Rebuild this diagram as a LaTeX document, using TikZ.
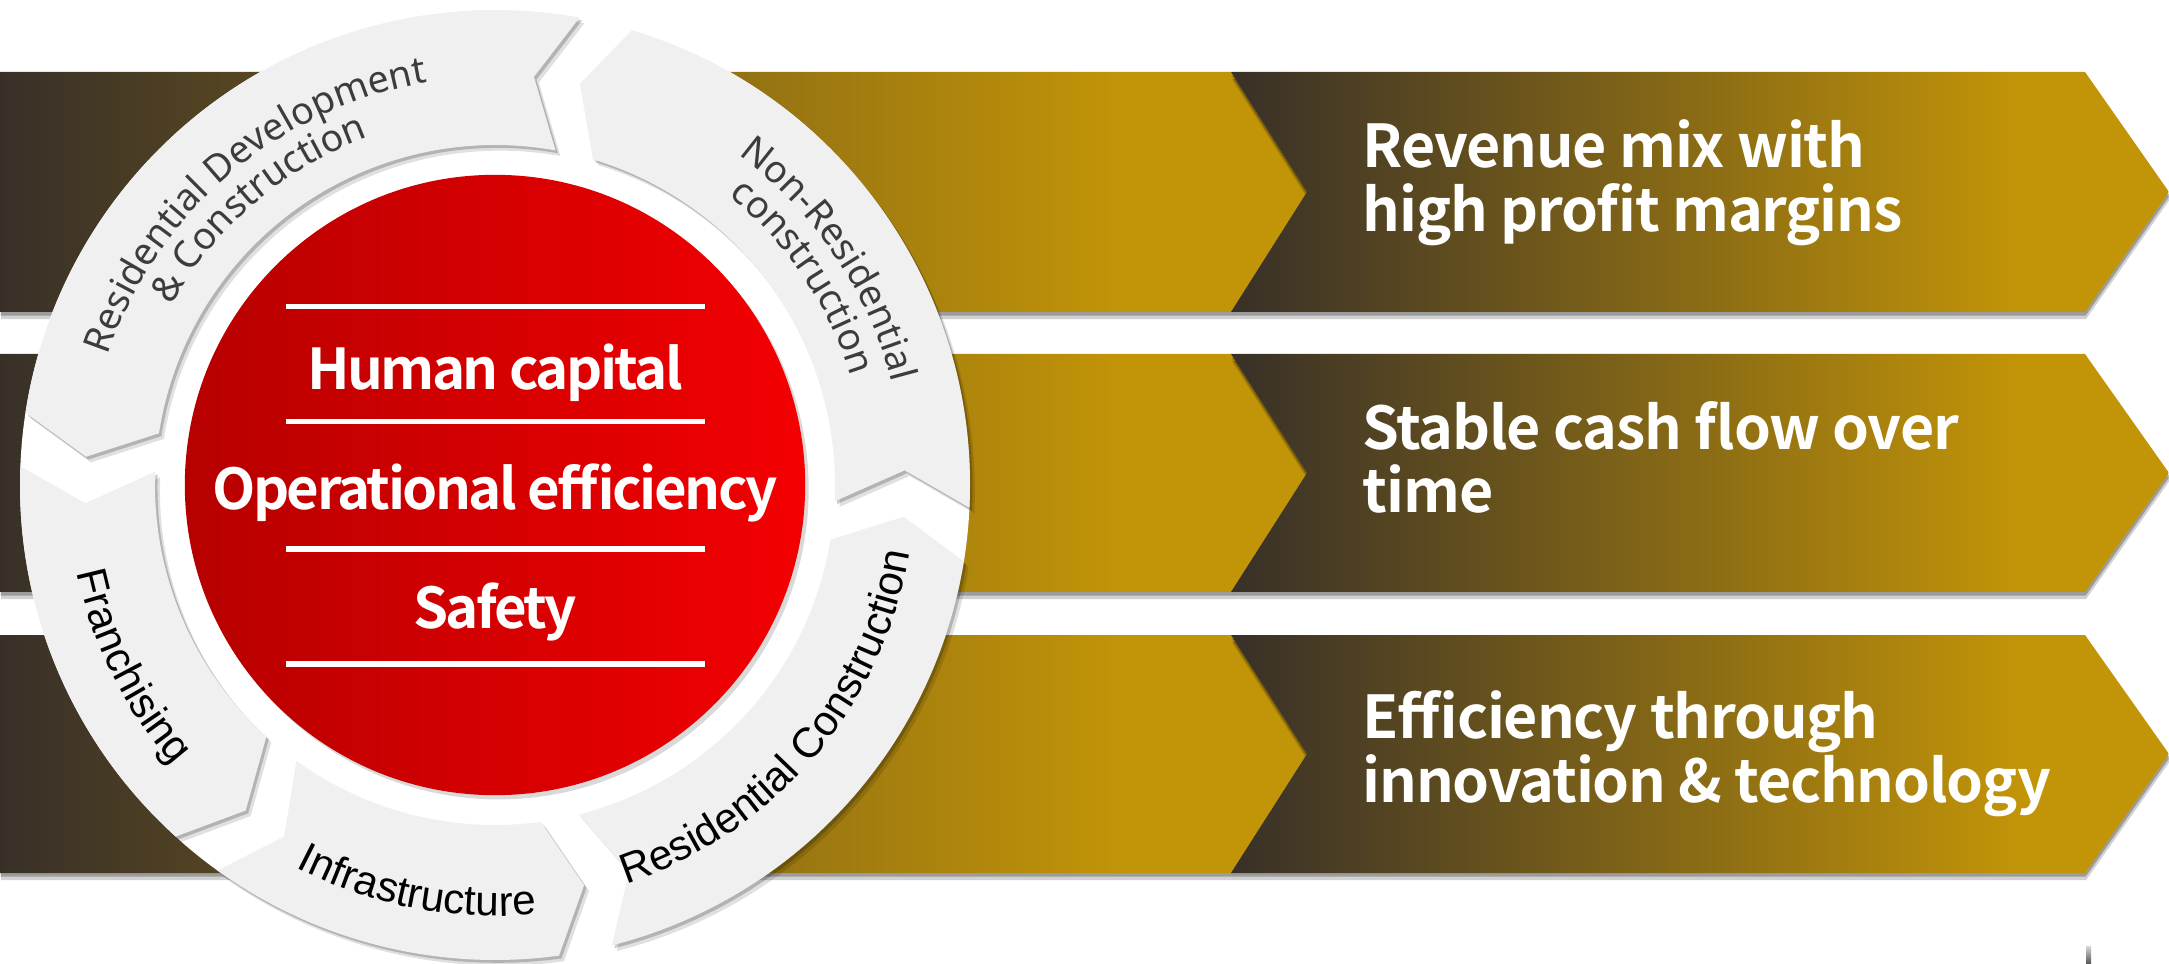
\documentclass[tikz,border=0pt]{standalone}
\usepackage{fontspec}
\setmainfont{Liberation Sans}
\newfontfamily\corefont{Noto Sans CJK KR Bold}[LetterSpace=-4.5]
\newfontfamily\msgfont{Noto Sans CJK KR Bold}[LetterSpace=-2]
\newfontfamily\segfont{Noto Sans}
\usetikzlibrary{decorations.text,shadows}

\definecolor{bandDark}{RGB}{56,48,40}
\definecolor{bandGold}{RGB}{194,148,8}
\definecolor{redDark}{RGB}{182,0,0}
\definecolor{redLight}{RGB}{244,0,2}
\definecolor{segGray}{RGB}{240,240,240}
\definecolor{segText}{RGB}{60,60,60}

\pgfdeclarehorizontalshading{leftband}{100bp}{color(0bp)=(bandDark); color(25bp)=(bandDark); color(68bp)=(bandGold); color(100bp)=(bandGold)}
\pgfdeclarehorizontalshading{rightband}{100bp}{color(0bp)=(bandDark); color(25bp)=(bandDark); color(67bp)=(bandGold); color(100bp)=(bandGold)}

\begin{document}
\begin{tikzpicture}[x=0.01cm, y=0.01cm,
	band_shadow/.style={drop shadow={shadow xshift=0.3pt, shadow yshift=-2pt, opacity=.18, fill=black},
		drop shadow={shadow xshift=0.2pt, shadow yshift=-1pt, opacity=.25, fill=black}},
	band_left/.style={band_shadow, shade, shading=leftband},
	band_right/.style={band_shadow, shade, shading=rightband},
	ring_seg/.style={fill=segGray, drop shadow={shadow xshift=1.4pt, shadow yshift=-1.6pt, opacity=.12, fill=black},
		drop shadow={shadow xshift=0.7pt, shadow yshift=-0.8pt, opacity=.2, fill=black}},
	core_line/.style={white, line width=1.45pt},
	core_text/.style={text=white, font=\corefont\fontsize{16}{19}\selectfont, anchor=base, inner sep=0pt},
	msg_text/.style={text=white, font=\msgfont\fontsize{16.8}{20}\selectfont, anchor=base west, inner sep=0pt},
	seg_label/.style={decorate, decoration={text along path, text align=center, text={#1}}}]

	\useasboundingbox (0,0) rectangle (2169,963);
	\fill[white] (0,0) rectangle (2169,963);

	% bands
	\path[band_left] (0,651) -- (0,891) -- (1231,891) -- (1307,771) -- (1231,651) -- cycle;
	\path[band_right] (1231,891) -- (2085,891) -- (2169,771) -- (2085,651) -- (1231,651) -- (1307,771) -- cycle;
	\path[band_left] (0,371) -- (0,609) -- (1231,609) -- (1307,490) -- (1231,371) -- cycle;
	\path[band_right] (1231,609) -- (2085,609) -- (2169,490) -- (2085,371) -- (1231,371) -- (1307,490) -- cycle;
	\path[band_left] (0,90) -- (0,328) -- (1231,328) -- (1307,209) -- (1231,90) -- cycle;
	\path[band_right] (1231,328) -- (2085,328) -- (2169,209) -- (2085,90) -- (1231,90) -- (1307,209) -- cycle;
	\shade[top color=black!15, bottom color=black!65] (2086,0) rectangle (2091,17);

	\node[msg_text] (rev1) at (1362,795) {Revenue mix with};
	\node[msg_text] (rev2) at (1362,731) {high profit margins};
	\node[msg_text] (cash1) at (1362,513) {Stable cash flow over};
	\node[msg_text] (cash2) at (1362,450) {time};
	\node[msg_text] (eff1) at (1362,225) {Efficiency through};
	\node[msg_text] (eff2) at (1362,161) {innovation \& technology};

	\begin{scope}[shift={(495,478)}]
		\fill[white] (0,0) circle[radius=475];

		% ring segments
		\path[ring_seg] (-2.75:475) arc[start angle=-2.75, end angle=73.25, radius=475] -- (78.05:410) -- (73.25:340)
			arc[start angle=73.25, end angle=-2.75, radius=340] -- (2.05:410) -- cycle;
		\path[ring_seg] (79.75:475) arc[start angle=79.75, end angle=171.25, radius=475] -- (176.05:410) -- (171.25:340)
			arc[start angle=171.25, end angle=79.75, radius=340] -- (84.55:410) -- cycle;
		\path[ring_seg] (177.75:475) arc[start angle=177.75, end angle=227.75, radius=475] -- (232.55:410) -- (227.75:340)
			arc[start angle=227.75, end angle=177.75, radius=340] -- (182.55:410) -- cycle;
		\path[ring_seg] (234.25:475) arc[start angle=234.25, end angle=277.75, radius=475] -- (282.55:410) -- (277.75:340)
			arc[start angle=277.75, end angle=234.25, radius=340] -- (239.05:410) -- cycle;
		\path[ring_seg] (284.25:475) arc[start angle=284.25, end angle=350.75, radius=475] -- (355.55:410) -- (350.75:340)
			arc[start angle=350.75, end angle=284.25, radius=340] -- (289.05:410) -- cycle;

		\path[seg_label={|\segfont\fontsize{10.7}{13}\selectfont\color{segText}|Residential Development}]
			(170.5:408) arc[start angle=170.5, end angle=90.5, radius=408];
		\path[seg_label={|\segfont\fontsize{10.7}{13}\selectfont\color{segText}|{\&} Construction}]
			(170.5:370) arc[start angle=170.5, end angle=90.5, radius=370];
		\path[seg_label={|\segfont\fontsize{10.7}{13}\selectfont\color{segText}|Non-Residential}]
			(74:410) arc[start angle=74, end angle=-6, radius=410];
		\path[seg_label={|\segfont\fontsize{10.7}{13}\selectfont\color{segText}|construction}]
			(74:372) arc[start angle=74, end angle=-6, radius=372];
		\path[seg_label={|\fontsize{12}{14}\selectfont|Franchising}]
			(176.5:427) arc[start angle=176.5, end angle=236.5, radius=427];
		\path[seg_label={|\fontsize{12}{14}\selectfont|Infrastructure}]
			(229:431) arc[start angle=229, end angle=289, radius=431];
		\path[seg_label={|\fontsize{12}{14}\selectfont|Residential Construction}]
			(284.5:420) arc[start angle=284.5, end angle=354.5, radius=420];

		% red core
		\node[circle, minimum size=6.2cm, inner sep=0pt, left color=redDark, right color=redLight,
			drop shadow={shadow xshift=1pt, shadow yshift=-1.2pt, opacity=.15, fill=black}] (core) at (0,0) {};
		\draw[core_line] (-209,178.5) -- (210,178.5);
		\draw[core_line] (-209,63.5) -- (210,63.5);
		\draw[core_line] (-209,-64) -- (210,-64);
		\draw[core_line] (-209,-179) -- (210,-179);
		\node[core_text] (human) at (0,95) {Human capital};
		\node[core_text] (oper) at (0,-25) {Operational efficiency};
		\node[core_text] (safety) at (0,-144) {Safety};
	\end{scope}
\end{tikzpicture}
\end{document}
